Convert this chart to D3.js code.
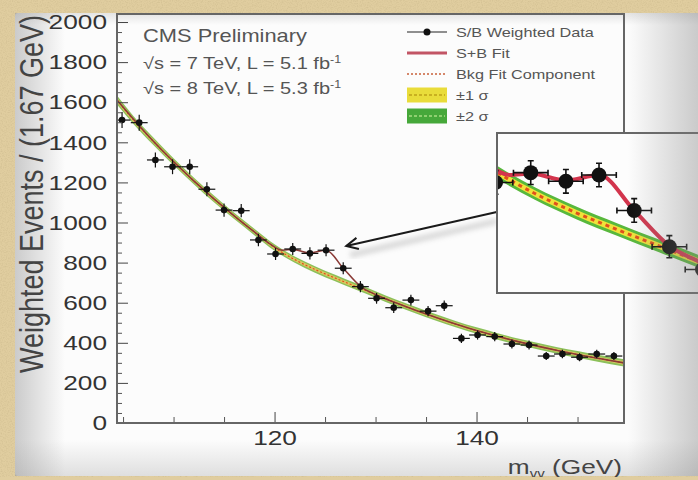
<!DOCTYPE html>
<html>
<head>
<meta charset="utf-8">
<script src="https://cdn.jsdelivr.net/npm/d3@7"></script>
<style>
  html, body { margin: 0; padding: 0; background: #e0cd9f; }
  svg { display: block; }
  text { font-family: "Liberation Sans", Arial, Helvetica, sans-serif; }
</style>
</head>
<body>
<svg id="chart" width="698" height="480"></svg>
<script>
// weighted diphoton mass spectrum
const massBins = [104.9, 106.6, 108.2, 109.9, 111.6, 113.3, 115.0, 116.7, 118.4, 120.1,
  121.8, 123.5, 125.1, 126.8, 128.5, 130.1, 131.8, 133.5, 135.2, 136.8,
  138.5, 140.1, 141.8, 143.5, 145.2, 146.9, 148.5, 150.2, 151.9, 153.6];
const weightedEvents = [1511, 1498, 1312, 1278, 1278, 1166, 1062, 1059, 913, 843,
  868, 846, 862, 772, 680, 622, 575, 613, 558, 585,
  422, 439, 431, 394, 389, 334, 344, 328, 344, 334];
const eventErrors = [40, 40, 37, 37, 37, 35, 33, 33, 31, 30,
  30, 30, 30, 30, 28, 27, 26, 27, 26, 26,
  23, 23, 23, 22, 22, 20, 21, 20, 21, 20];
const binHalfWidth = 0.835;

// background fit component with its bands
const fitMass = [104.4, 106, 108, 110, 112, 114, 116, 118, 120, 122, 124, 126, 128,
  130, 132, 134, 136, 138, 140, 142, 144, 146, 148, 150, 152, 154.6];
const bkgFit = [1611, 1513, 1405, 1303, 1208, 1118, 1033, 953, 875, 815, 766, 723, 682,
  641, 600, 562, 526, 492, 461, 433, 407, 384, 362, 342, 323, 300];
const oneSigma = [11, 10, 10, 9, 9, 9, 8, 8, 8, 8, 8, 8, 8,
  8, 8, 8, 8, 8, 8, 8, 8, 8, 8, 8, 8, 9];
const twoSigma = [22, 20, 19, 18, 17, 17, 16, 16, 16, 16, 16, 16, 16,
  16, 16, 16, 16, 16, 16, 16, 16, 16, 16, 17, 17, 18];

// signal + background fit
const sbMass = [104.4, 108, 112, 116, 118, 119.5, 120.8, 121.8, 123.5, 125.1, 126.8,
  128.5, 130, 132, 136, 140, 144, 148, 152, 154.6];
const sbFit = [1611, 1405, 1208, 1033, 953, 895, 862, 866, 848, 862, 772,
  682, 641, 600, 526, 461, 407, 362, 323, 300];

const yMajorTicks = [0, 200, 400, 600, 800, 1000, 1200, 1400, 1600, 1800, 2000];
const yMinorTicks = d3.range(50, 2040, 50).filter(v => v % 200 !== 0);
const xMajorTicks = [120, 140];
const xMinorTicks = [105, 110, 115, 125, 130, 135, 145, 150];

const legendLabels = ["S/B Weighted Data", "S+B Fit", "Bkg Fit Component", "±1 σ", "±2 σ"];
const arrowFrom = [142.0, 1052];
const arrowTo = [127.1, 883];

const svg = d3.select("#chart");
const W = 698, H = 480;
const stretch = "scale(1.25,1)";

const defs = svg.append("defs");

const grain = defs.append("filter").attr("id", "grain");
grain.append("feTurbulence").attr("type", "fractalNoise").attr("baseFrequency", 0.8).attr("numOctaves", 2);
grain.append("feColorMatrix").attr("type", "matrix")
  .attr("values", "0 0 0 0 0.45  0 0 0 0 0.36  0 0 0 0 0.18  0.6 0 0 0 -0.25");

const blur = defs.append("filter").attr("id", "blur");
blur.append("feGaussianBlur").attr("stdDeviation", 2.5);

const grad = (id, x1, y1, x2, y2, stops) => {
  const g = defs.append("linearGradient").attr("id", id)
    .attr("x1", x1).attr("y1", y1).attr("x2", x2).attr("y2", y2);
  stops.forEach(s => g.append("stop").attr("offset", s[0]).attr("stop-color", s[1]).attr("stop-opacity", s[2]));
};
grad("shadeLeft", 0, 0, 1, 0, [[0, "#9a9a9a", 0.5], [1, "#9a9a9a", 0]]);
grad("shadeBottom", 0, 1, 0, 0, [[0, "#9a9a9a", 0.3], [1, "#9a9a9a", 0]]);
grad("shadeTop", 0, 0, 0, 1, [[0, "#9a9a9a", 0.25], [1, "#9a9a9a", 0]]);
grad("shadeRight", 0, 0, 1, 0, [[0, "#808080", 0], [1, "#808080", 0.4]]);

defs.append("clipPath").attr("id", "insetClip")
  .append("rect").attr("x", 497).attr("y", 133).attr("width", 240).attr("height", 160);
defs.append("clipPath").attr("id", "plotClip")
  .append("rect").attr("x", 117).attr("y", 14).attr("width", 507).attr("height", 409);

// parchment and photographed page
svg.append("rect").attr("width", W).attr("height", H).attr("fill", "#e0cd9f");
svg.append("rect").attr("width", W).attr("height", H).attr("filter", "url(#grain)");
svg.append("rect").attr("x", 15).attr("y", 13).attr("width", 700).attr("height", 463)
  .attr("rx", 3).attr("fill", "#fcfcfc");
svg.append("rect").attr("x", 15).attr("y", 13).attr("width", 50).attr("height", 463).attr("fill", "url(#shadeLeft)");
svg.append("rect").attr("x", 15).attr("y", 440).attr("width", 700).attr("height", 36).attr("fill", "url(#shadeBottom)");
svg.append("rect").attr("x", 15).attr("y", 13).attr("width", 700).attr("height", 12).attr("fill", "url(#shadeTop)");

const x = d3.scaleLinear().domain([104.4, 154.6]).range([117, 624]);
const y = d3.scaleLinear().domain([0, 2040]).range([423, 14]);

const fitRows = fitMass.map((m, i) => ({ m: m, b: bkgFit[i], s1: oneSigma[i], s2: twoSigma[i] }));
const sbRows = sbMass.map((m, i) => ({ m: m, v: sbFit[i] }));
const points = massBins.map((m, i) => ({ m: m, v: weightedEvents[i], e: eventErrors[i] }));

// draws bands, fits and data for a pair of scales
const drawFits = (g, xs, ys, st) => {
  const band = (k) => d3.area()
    .x(d => xs(d.m)).y0(d => ys(d.b - d[k])).y1(d => ys(d.b + d[k]))
    .curve(d3.curveMonotoneX);
  g.append("path").datum(fitRows).attr("d", band("s2")).attr("fill", st.green);
  g.append("path").datum(fitRows).attr("d", band("s1")).attr("fill", st.yellow);
  g.append("path").datum(fitRows)
    .attr("d", d3.line().x(d => xs(d.m)).y(d => ys(d.b)).curve(d3.curveMonotoneX))
    .attr("fill", "none").attr("stroke", "#e0501c")
    .attr("stroke-width", st.dotWidth).attr("stroke-dasharray", st.dash);
  g.append("path").datum(sbRows)
    .attr("d", d3.line().x(d => xs(d.m)).y(d => ys(d.v)).curve(d3.curveMonotoneX))
    .attr("fill", "none").attr("stroke", st.sbColor).attr("stroke-width", st.sbWidth)
    .attr("stroke-linejoin", "round");

  const pt = g.append("g").selectAll("g").data(points).enter().append("g");
  pt.append("line")
    .attr("x1", d => xs(d.m - binHalfWidth)).attr("x2", d => xs(d.m + binHalfWidth))
    .attr("y1", d => ys(d.v)).attr("y2", d => ys(d.v));
  pt.append("line")
    .attr("x1", d => xs(d.m)).attr("x2", d => xs(d.m))
    .attr("y1", d => ys(d.v - d.e)).attr("y2", d => ys(d.v + d.e));
  if (st.cap > 0) {
    pt.append("path").attr("d", d => {
      const cx = xs(d.m), cy = ys(d.v), c = st.cap;
      const t = ys(d.v + d.e), b = ys(d.v - d.e);
      const l = xs(d.m - binHalfWidth), r = xs(d.m + binHalfWidth);
      return `M${cx - c},${t}H${cx + c}M${cx - c},${b}H${cx + c}M${l},${cy - c}V${cy + c}M${r},${cy - c}V${cy + c}`;
    });
  }
  pt.selectAll("line, path").attr("stroke", "#111").attr("stroke-width", st.errWidth).attr("fill", "none");
  pt.append("circle").attr("cx", d => xs(d.m)).attr("cy", d => ys(d.v)).attr("r", st.r).attr("fill", "#111");
};

const plot = svg.append("g");
drawFits(plot.append("g").attr("clip-path", "url(#plotClip)"), x, y,
  { green: "#8cc05a", yellow: "#d9c860", dotWidth: 1.2, dash: "2,2", sbColor: "#8a3a36",
    sbWidth: 1.6, errWidth: 1.2, cap: 0, r: 3.3 });

// axes, ROOT style ticks pointing inwards
const yAxis = plot.append("g").attr("transform", "translate(117,0)").attr("color", "#444")
  .call(d3.axisLeft(y).tickValues(yMajorTicks).tickSizeInner(-11).tickSizeOuter(0)
    .tickPadding(8).tickFormat(d3.format("d")));
yAxis.select(".domain").remove();
yAxis.selectAll("text").attr("transform", stretch).style("font-size", "21px").attr("fill", "#333");
const yMinor = plot.append("g").attr("transform", "translate(117,0)").attr("color", "#555")
  .call(d3.axisLeft(y).tickValues(yMinorTicks).tickSizeInner(-5).tickSizeOuter(0).tickFormat(""));
yMinor.select(".domain").remove();

const xAxis = plot.append("g").attr("transform", "translate(0,423)").attr("color", "#444")
  .call(d3.axisBottom(x).tickValues(xMajorTicks).tickSizeInner(-11).tickSizeOuter(0).tickPadding(7));
xAxis.select(".domain").remove();
xAxis.selectAll("text").attr("transform", stretch).style("font-size", "21px").attr("fill", "#333");
const xMinor = plot.append("g").attr("transform", "translate(0,423)").attr("color", "#555")
  .call(d3.axisBottom(x).tickValues(xMinorTicks).tickSizeInner(-6).tickSizeOuter(0).tickFormat(""));
xMinor.select(".domain").remove();

plot.append("rect").attr("x", 117).attr("y", 14).attr("width", 507).attr("height", 409)
  .attr("fill", "none").attr("stroke", "#666").attr("stroke-width", 2);

// axis titles
svg.append("text").attr("transform", "translate(43,15) rotate(-90) scale(1,1.25)")
  .attr("text-anchor", "end").style("font-size", "27px").attr("fill", "#444")
  .text("Weighted Events / (1.67 GeV)");
const xt = svg.append("text").attr("transform", "translate(622,474) " + stretch)
  .attr("text-anchor", "end").style("font-size", "21px").attr("fill", "#444");
xt.append("tspan").text("m");
xt.append("tspan").attr("dy", 4).style("font-size", "12px").text("γγ");
xt.append("tspan").attr("dy", -4).text(" (GeV)");

// CMS label
svg.append("text").attr("transform", "translate(143,42) " + stretch)
  .style("font-size", "17.5px").attr("fill", "#555").text("CMS Preliminary");
[["7", "5.1", 69], ["8", "5.3", 94]].forEach(r => {
  const t = svg.append("text").attr("transform", `translate(143,${r[2]}) ` + stretch)
    .style("font-size", "16px").attr("fill", "#555");
  t.append("tspan").text(`√s = ${r[0]} TeV, L = ${r[1]} fb`);
  t.append("tspan").attr("dy", -6).style("font-size", "10px").text("-1");
});

// legend
const legend = svg.append("g");
const ly = [32, 53, 74, 95, 116];
legend.selectAll("text").data(legendLabels).enter().append("text")
  .attr("transform", (d, i) => `translate(456,${ly[i] + 4.5}) ` + stretch)
  .style("font-size", "13px").attr("fill", "#555").text(d => d);
legend.append("line").attr("x1", 407).attr("x2", 447).attr("y1", ly[0]).attr("y2", ly[0])
  .attr("stroke", "#222").attr("stroke-width", 1);
legend.append("circle").attr("cx", 427).attr("cy", ly[0]).attr("r", 3.5).attr("fill", "#111");
legend.append("line").attr("x1", 407).attr("x2", 447).attr("y1", ly[1]).attr("y2", ly[1])
  .attr("stroke", "#c25565").attr("stroke-width", 3);
legend.append("line").attr("x1", 407).attr("x2", 447).attr("y1", ly[2]).attr("y2", ly[2])
  .attr("stroke", "#c8603a").attr("stroke-width", 1.5).attr("stroke-dasharray", "2,2");
[["#e9dc3a", "#c9b020", ly[3]], ["#46a83a", "#8fd070", ly[4]]].forEach(b => {
  legend.append("rect").attr("x", 407).attr("y", b[2] - 7.5).attr("width", 40).attr("height", 15)
    .attr("fill", b[0]);
  legend.append("line").attr("x1", 409).attr("x2", 445).attr("y1", b[2]).attr("y2", b[2])
    .attr("stroke", b[1]).attr("stroke-width", 2).attr("stroke-dasharray", "3,2");
});

// arrow pointing at the excess
const ax1 = x(arrowFrom[0]), ay1 = y(arrowFrom[1]), ax2 = x(arrowTo[0]), ay2 = y(arrowTo[1]);
svg.append("line").attr("x1", ax1).attr("y1", ay1 + 9).attr("x2", ax2 + 4).attr("y2", ay2 + 9)
  .attr("stroke", "#999").attr("stroke-width", 6).attr("opacity", 0.35).attr("filter", "url(#blur)");
svg.append("line").attr("x1", ax1).attr("y1", ay1).attr("x2", ax2).attr("y2", ay2)
  .attr("stroke", "#1a1a1a").attr("stroke-width", 2);
const ang = Math.atan2(ay1 - ay2, ax1 - ax2);
const headLen = 13, spread = 0.45;
svg.append("path")
  .attr("d", `M${ax2 + headLen * Math.cos(ang - spread)},${ay2 + headLen * Math.sin(ang - spread)}L${ax2},${ay2}L${ax2 + headLen * Math.cos(ang + spread)},${ay2 + headLen * Math.sin(ang + spread)}`)
  .attr("fill", "none").attr("stroke", "#1a1a1a").attr("stroke-width", 2);

// zoomed inset around the peak
const xi = d3.scaleLinear().domain([120.17, 131.43]).range([497, 730]);
const yi = d3.scaleLinear().domain([562.5, 968.6]).range([293, 133]);
svg.append("rect").attr("x", 497).attr("y", 133).attr("width", 240).attr("height", 160).attr("fill", "#fdfdfd");
drawFits(svg.append("g").attr("clip-path", "url(#insetClip)"), xi, yi,
  { green: "#58b83c", yellow: "#efe23a", dotWidth: 3, dash: "4,4", sbColor: "#d3354d",
    sbWidth: 4, errWidth: 1.6, cap: 3, r: 7.5 });
svg.append("path").attr("d", "M705,133H497V293H705")
  .attr("fill", "none").attr("stroke", "#666").attr("stroke-width", 2);

// photo vignette on the right and parchment edges
svg.append("rect").attr("x", 628).attr("y", 13).attr("width", 70).attr("height", 463).attr("fill", "url(#shadeRight)");
svg.append("rect").attr("x", 0).attr("y", 477).attr("width", W).attr("height", 3).attr("fill", "#e0cd9f");
</script>
</body>
</html>
